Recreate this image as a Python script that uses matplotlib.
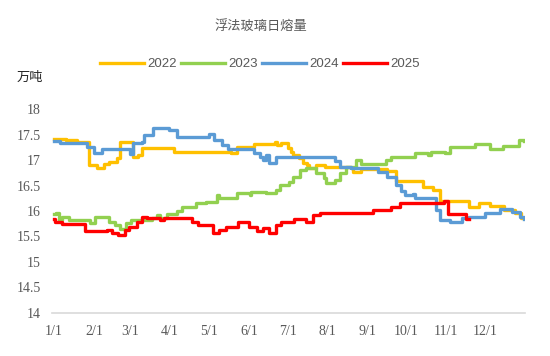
import matplotlib.pyplot as plt

# day-of-year where each step starts, and the value from that day on (万吨)
days_2022 = [0, 9, 18, 27, 33, 39, 43, 49, 51, 61, 65, 68, 93, 137, 142, 155, 171, 173, 176, 181,
             184, 185, 190, 193, 196, 198, 203, 210, 230, 232, 238, 258, 265, 286, 294, 299, 322,
             329, 338, 349, 357, 362, 364]
vals_2022 = [17.42, 17.39, 17.36, 16.9, 16.85, 16.92, 16.97, 17.03, 17.36, 17.05, 17.1, 17.23, 17.16,
             17.13, 17.26, 17.31, 17.36, 17.29, 17.33, 17.23, 17.16, 17.1, 17.03, 16.94, 16.9, 16.84,
             16.9, 16.87, 16.84, 16.77, 16.82, 16.78, 16.59, 16.48, 16.41, 16.2, 16.08, 16.15, 16.1,
             16.02, 15.96, 15.87, 15.87]

days_2023 = [0, 2, 4, 6, 12, 28, 32, 43, 47, 51, 56, 60, 76, 80, 82, 88, 95, 99, 110, 118, 126, 128,
             142, 152, 153, 164, 172, 175, 182, 185, 191, 195, 203, 209, 211, 218, 222, 226, 234, 238,
             257, 261, 280, 290, 292, 303, 307, 326, 338, 348, 360, 364]
vals_2023 = [15.95, 15.97, 15.82, 15.89, 15.82, 15.76, 15.88, 15.79, 15.73, 15.64, 15.77, 15.82, 15.86,
             15.92, 15.86, 15.94, 16.0, 16.08, 16.15, 16.17, 16.31, 16.25, 16.36, 16.31, 16.38, 16.35,
             16.41, 16.51, 16.57, 16.67, 16.8, 16.84, 16.74, 16.65, 16.54, 16.61, 16.75, 16.87, 17.0,
             16.93, 17.0, 17.05, 17.13, 17.09, 17.16, 17.13, 17.26, 17.31, 17.21, 17.28, 17.39, 17.37]

days_2024 = [0, 5, 26, 31, 37, 59, 61, 68, 70, 77, 89, 95, 120, 124, 130, 135, 155, 160, 162, 164,
             167, 172, 218, 222, 230, 251, 258, 265, 269, 272, 278, 280, 296, 299, 307, 316, 322, 334,
             346, 355, 361, 364]
vals_2024 = [17.38, 17.33, 17.26, 17.14, 17.21, 17.12, 17.34, 17.36, 17.49, 17.62, 17.58, 17.46, 17.51,
             17.39, 17.29, 17.21, 17.13, 17.06, 17.0, 17.1, 16.94, 17.05, 16.99, 16.87, 16.84, 16.77,
             16.67, 16.51, 16.4, 16.31, 16.33, 16.25, 16.02, 15.82, 15.79, 15.86, 15.89, 15.96, 16.04,
             15.99, 15.88, 15.85]

days_2025 = [0, 1, 6, 24, 41, 45, 50, 55, 58, 64, 68, 72, 82, 85, 107, 112, 123, 128, 133, 143, 151,
             157, 162, 167, 172, 176, 186, 195, 201, 206, 247, 261, 268, 302, 305, 319, 322]
vals_2025 = [15.84, 15.79, 15.75, 15.6, 15.62, 15.56, 15.52, 15.63, 15.69, 15.79, 15.89, 15.86, 15.82,
             15.86, 15.78, 15.73, 15.57, 15.63, 15.69, 15.79, 15.69, 15.6, 15.67, 15.57, 15.73, 15.79,
             15.84, 15.79, 15.92, 15.97, 16.02, 16.08, 16.15, 16.2, 15.95, 15.84, 15.84]

month_starts = [0, 31, 59, 90, 120, 151, 181, 212, 243, 273, 304, 334]
month_labels = ['1/1', '2/1', '3/1', '4/1', '5/1', '6/1', '7/1', '8/1', '9/1', '10/1', '11/1', '12/1']
y_ticks = [14, 14.5, 15, 15.5, 16, 16.5, 17, 17.5, 18]

fig = plt.figure(figsize=(5.5, 3.56), dpi=100)
ax = fig.add_axes([0.0945, 0.1208, 0.86, 0.573])

lw = 2.4
ax.plot(days_2022, vals_2022, drawstyle='steps-post', color='#FFC000', lw=lw, label='2022')
ax.plot(days_2023, vals_2023, drawstyle='steps-post', color='#92D050', lw=lw, label='2023')
ax.plot(days_2024, vals_2024, drawstyle='steps-post', color='#5B9BD5', lw=lw, label='2024')
ax.plot(days_2025, vals_2025, drawstyle='steps-post', color='#FF0000', lw=lw, label='2025')

ax.set_xlim(-1.5, 365)
ax.set_ylim(14, 18)
ax.set_xticks(month_starts)
ax.set_xticklabels(month_labels)
ax.set_yticks(y_ticks)
ax.set_yticklabels(['14', '14.5', '15', '15.5', '16', '16.5', '17', '17.5', '18'])
for lab in ax.get_xticklabels() + ax.get_yticklabels():
    lab.set_fontfamily('Liberation Serif')
    lab.set_fontsize(10)
    lab.set_color('#595959')
ax.tick_params(axis='both', length=0)
ax.tick_params(axis='x', pad=9)
ax.tick_params(axis='y', pad=8)

for s in ['top', 'right', 'left']:
    ax.spines[s].set_visible(False)
ax.spines['bottom'].set_color('#d9d9d9')
ax.spines['bottom'].set_linewidth(1.2)

fig.text(0.475, 0.927, '浮法玻璃日熔量', ha='center', va='center', fontsize=9.5,
         color='#595959', family=['Noto Sans CJK SC', 'DejaVu Sans'])
fig.text(0.03, 0.782, '万吨', ha='left', va='center', fontsize=9.5,
         color='#262626', family=['Noto Sans CJK SC', 'DejaVu Sans'])

fig.legend(loc='center', bbox_to_anchor=(0.473, 0.82), ncol=4, frameon=False,
           prop={'family': 'Liberation Sans', 'size': 9.5}, labelcolor='#595959',
           handlelength=3.3, handletextpad=0.3, columnspacing=0.3)

fig.savefig('out.png', dpi=100)
